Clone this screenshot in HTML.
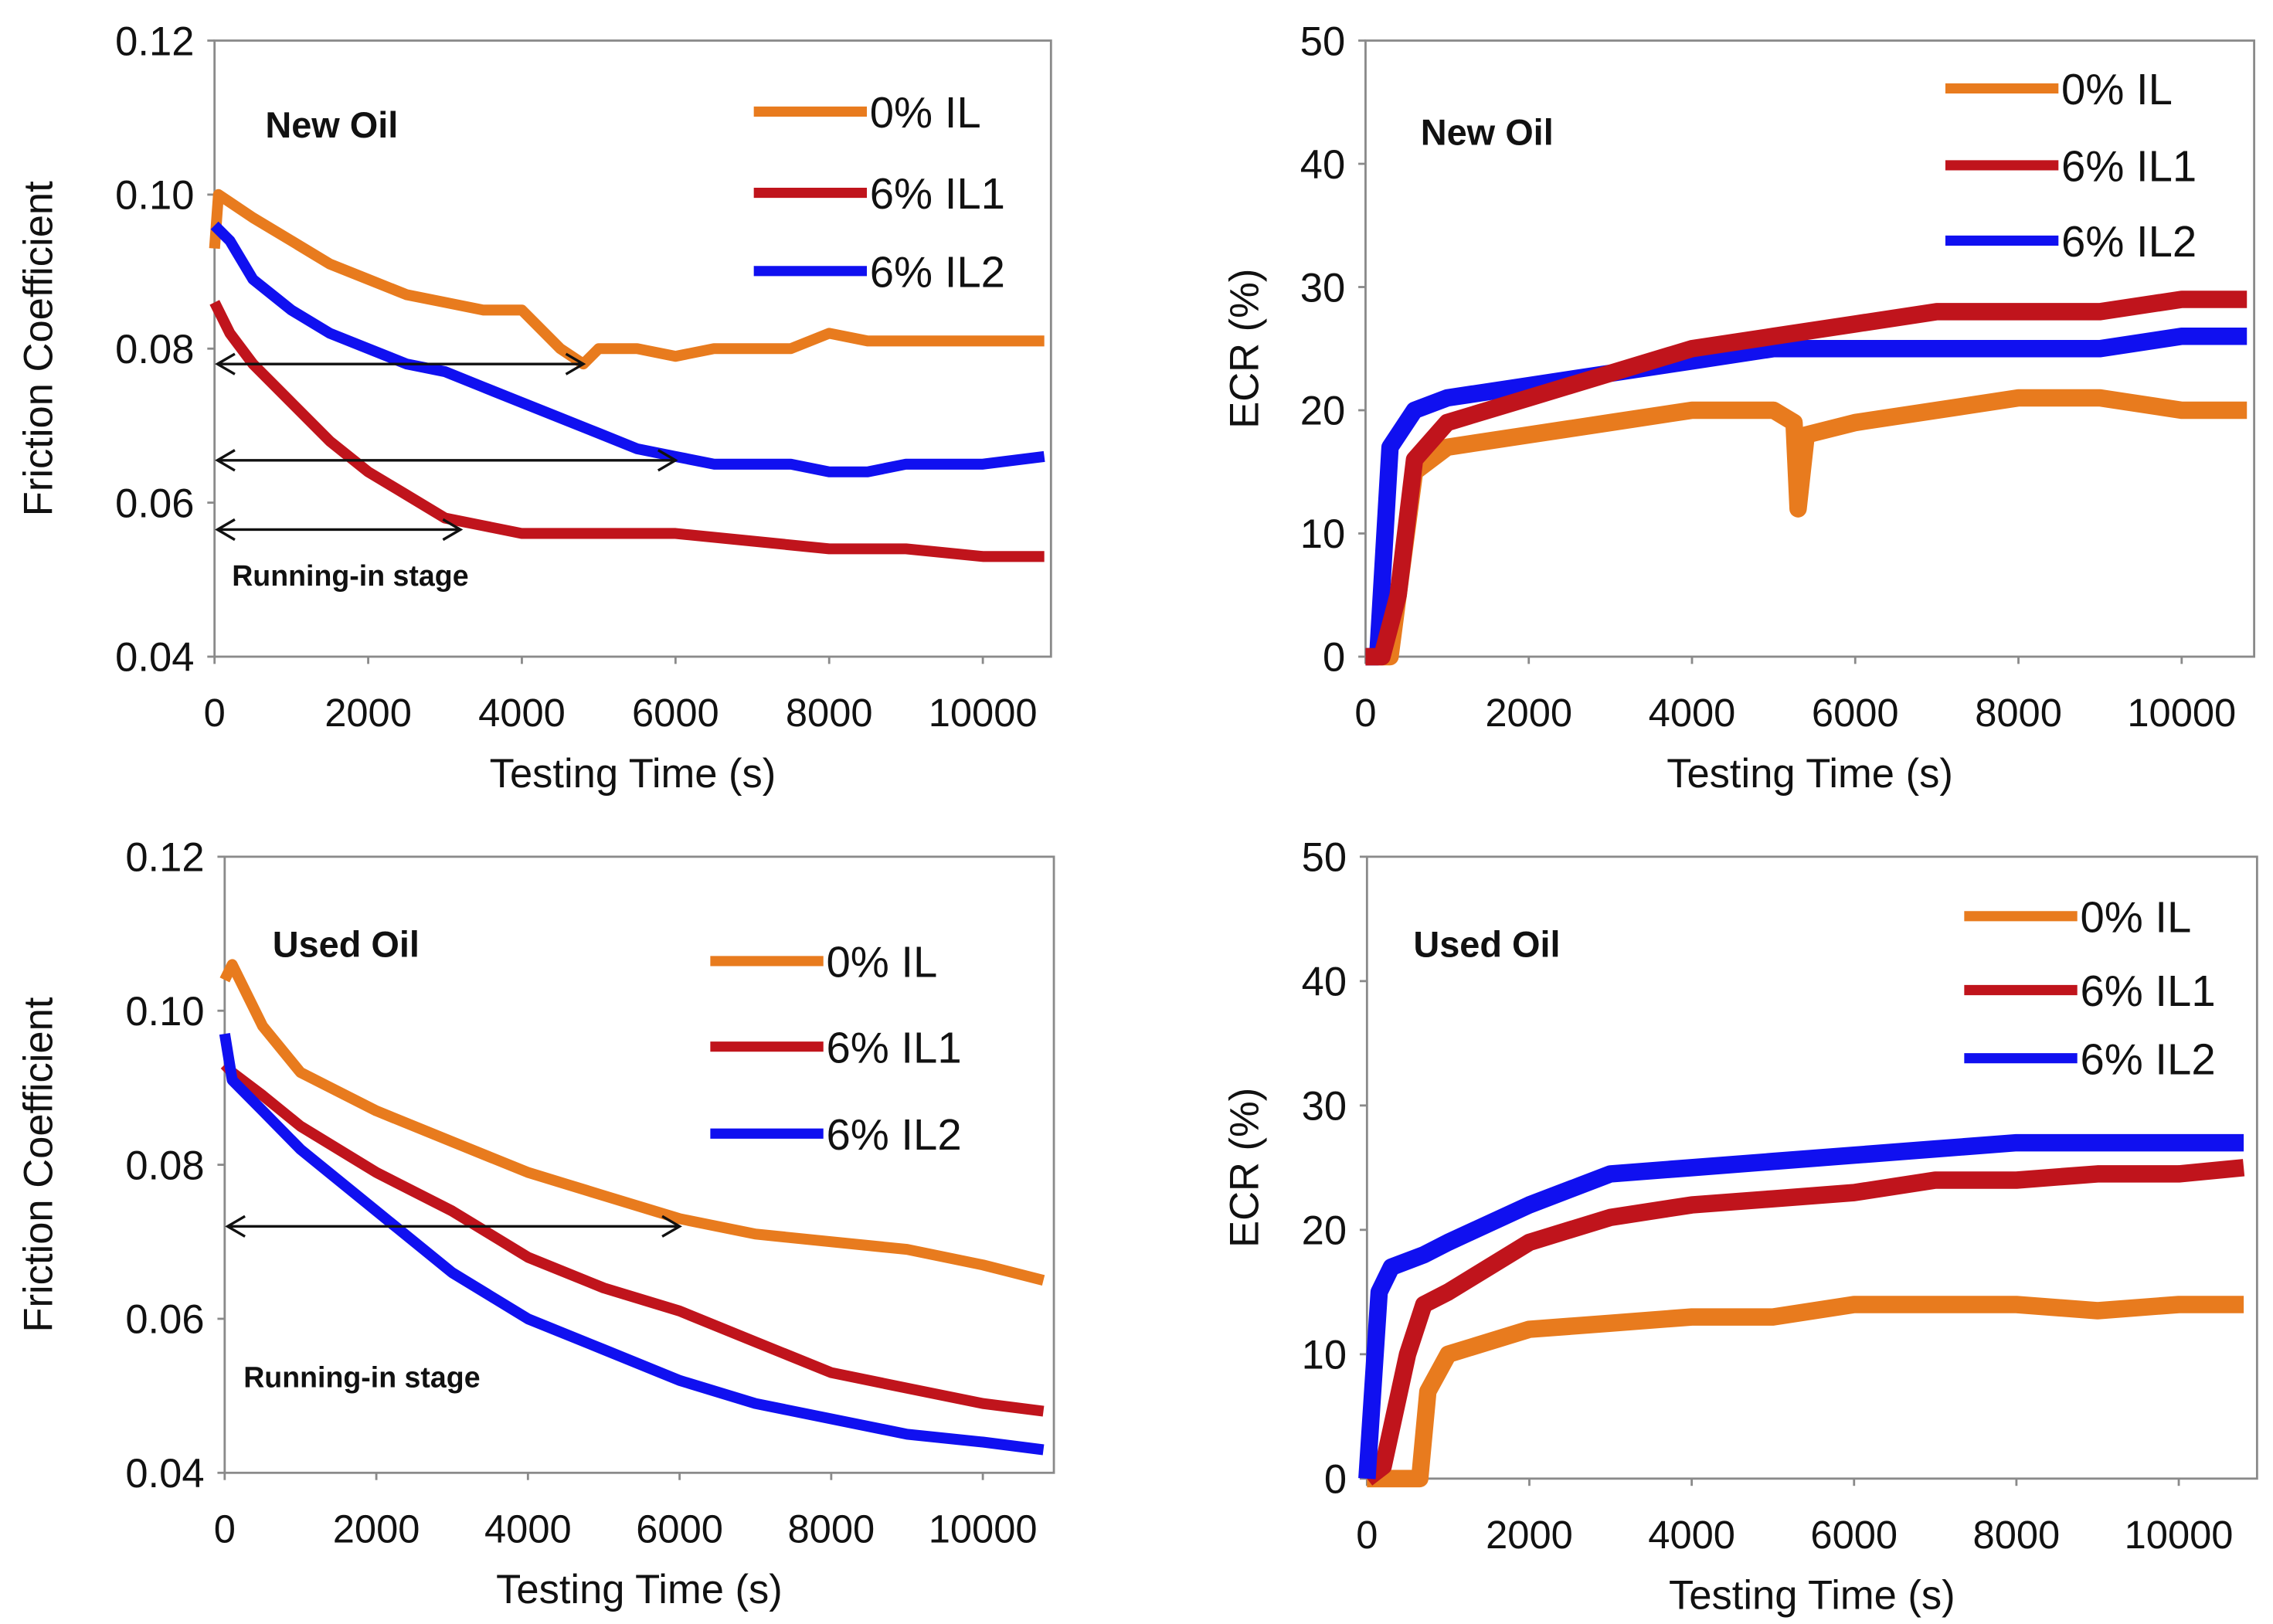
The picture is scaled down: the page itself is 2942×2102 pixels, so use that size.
<!DOCTYPE html>
<html><head><meta charset="utf-8"><style>
html,body{margin:0;padding:0;background:#fff;}
svg{display:block;font-family:"Liberation Sans",Arial,sans-serif;}
</style></head><body>
<svg id="fig" width="2942" height="2102" viewBox="0 0 1568 1120.3" preserveAspectRatio="none" xmlns="http://www.w3.org/2000/svg"></svg>
<script>
// ---- data ----
const tl_t0=[0,50,500,1000,1500,2000,2500,3000,3500,4000,4500,4800,5000,5500,6000,6500,7000,7500,8000,8500,9000,9500,10000,10800];
const tl_v0=[0.093,0.100,0.097,0.094,0.091,0.089,0.087,0.086,0.085,0.085,0.080,0.078,0.080,0.080,0.079,0.080,0.080,0.080,0.082,0.081,0.081,0.081,0.081,0.081];
const tl_t1=[0,200,500,1000,1500,2000,2500,3000,3500,4000,5000,6000,7000,8000,9000,10000,10800];
const tl_v1=[0.086,0.082,0.078,0.073,0.068,0.064,0.061,0.058,0.057,0.056,0.056,0.056,0.055,0.054,0.054,0.053,0.053];
const tl_t2=[0,200,500,1000,1500,2000,2500,3000,3500,4000,4500,5000,5500,6000,6500,7000,7500,8000,8500,9000,9500,10000,10800];
const tl_v2=[0.096,0.094,0.089,0.085,0.082,0.080,0.078,0.077,0.075,0.073,0.071,0.069,0.067,0.066,0.065,0.065,0.065,0.064,0.064,0.065,0.065,0.065,0.066];
const bl_t=[0,100,500,1000,2000,3000,4000,5000,6000,7000,8000,9000,10000,10800];
const bl_v0=[0.104,0.106,0.098,0.092,0.087,0.083,0.079,0.076,0.073,0.071,0.070,0.069,0.067,0.065];
const bl_v1=[0.093,0.092,0.089,0.085,0.079,0.074,0.068,0.064,0.061,0.057,0.053,0.051,0.049,0.048];
const bl_v2=[0.097,0.091,0.087,0.082,0.074,0.066,0.060,0.056,0.052,0.049,0.047,0.045,0.044,0.043];
const tr_t0=[0,300,400,600,1000,2000,3000,4000,5000,5250,5300,5400,6000,7000,8000,9000,10000,10800];
const tr_v0=[0,0,5,15,17,18,19,20,20,19,12,18,19,20,21,21,20,20];
const tr_t1=[0,200,400,600,1000,2000,3000,4000,5000,6000,7000,8000,9000,10000,10800];
const tr_v1=[0,0,5,16,19,21,23,25,26,27,28,28,28,29,29];
const tr_t2=[0,150,300,600,1000,2000,3000,4000,5000,6000,7000,8000,9000,10000,10800];
const tr_v2=[0,0,17,20,21,22,23,24,25,25,25,25,25,26,26];
const br_t0=[0,650,750,1000,2000,3000,4000,5000,6000,7000,8000,9000,10000,10800];
const br_v0=[0,0,7,10,12,12.5,13,13,14,14,14,13.5,14,14];
const br_t1=[0,200,500,700,1000,2000,3000,4000,5000,6000,7000,8000,9000,10000,10800];
const br_v1=[0,1,10,14,15,19,21,22,22.5,23,24,24,24.5,24.5,25];
const br_t2=[0,150,300,700,1000,2000,3000,4000,5000,6000,7000,8000,9000,10000,10800];
const br_v2=[0,15,17,18,19,22,24.5,25,25.5,26,26.5,27,27,27,27];
const xTicks=[0,2000,4000,6000,8000,10000];
const fTicks=[0.04,0.06,0.08,0.10,0.12];
const eTicks=[0,10,20,30,40,50];
const legendLabels=['0% IL','6% IL1','6% IL2'];
const colors=['#E87B1E','#C0141C','#1010F0'];

const svg=document.getElementById('fig');
const NS='http://www.w3.org/2000/svg';
function mk(tag,attrs,parent){const e=document.createElementNS(NS,tag);for(const k in attrs)e.setAttribute(k,attrs[k]);(parent||svg).appendChild(e);return e;}

function panel(p){
  const g=mk('g',{});
  
  
  const sx=v=>p.x0+(v/10000)*(p.x10k-p.x0);
  const sy=v=>p.y1-(v-p.ymin)/(p.ymax-p.ymin)*(p.y1-p.y0);
  const box=mk('rect',{x:p.x0,y:p.y0,width:p.x1-p.x0,height:p.y1-p.y0,fill:'none',stroke:'#8a8a8a','stroke-width':1.5},g);
  
  
  p.yt.forEach(v=>{
    mk('line',{x1:p.x0-5,x2:p.x0,y1:sy(v),y2:sy(v),stroke:'#8a8a8a','stroke-width':1.5},g);
    const t=mk('text',{x:p.x0-14,y:sy(v)+10,'text-anchor':'end','font-size':28,fill:'#111'},g);
    t.textContent=p.fmt(v);
    
    
  });
  xTicks.forEach(v=>{
    mk('line',{x1:sx(v),x2:sx(v),y1:p.y1,y2:p.y1+5,stroke:'#8a8a8a','stroke-width':1.5},g);
    const t=mk('text',{x:sx(v),y:p.y1+48,'text-anchor':'middle','font-size':27,fill:'#111'},g);
    t.textContent=String(v);
    
    
  });
  const xt=mk('text',{x:(p.x0+p.x1)/2,y:p.y1+90,'text-anchor':'middle','font-size':28,fill:'#111'},g);
  xt.textContent='Testing Time (s)';
  
  
  const yt=mk('text',{x:0,y:0,'text-anchor':'middle','font-size':28,fill:'#111',transform:`translate(${p.ytx},${(p.y0+p.y1)/2}) rotate(-90)`},g);
  yt.textContent=p.ytitle;
  
  
  const ti=mk('text',{x:p.titleX,y:p.titleY,'font-size':25,'font-weight':'bold',fill:'#111'},g);
  ti.textContent=p.title;
  
  
  const order=p.order||[0,1,2];
  order.forEach(i=>{
    const s=p.series[i];
    const d=s.t.map((tt,j)=>(j?'L':'M')+sx(tt).toFixed(1)+','+sy(s.v[j]).toFixed(1)).join(' ');
    const pl=mk('path',{d:d,fill:'none',stroke:colors[i],'stroke-width':p.sw,'stroke-linejoin':'round'},g);
    
    
  });
  (p.arrows||[]).forEach(a=>{
    const ag=mk('g',{stroke:'#111','stroke-width':1.8,fill:'none'},g);
    
    
    const y=sy(a.y),xa=sx(0)+2,xb=sx(a.to);
    mk('line',{x1:xa,x2:xb,y1:y,y2:y},ag);
    mk('path',{d:`M${xa+12},${y-7} L${xa},${y} L${xa+12},${y+7}`},ag);
    mk('path',{d:`M${xb-12},${y-7} L${xb},${y} L${xb-12},${y+7}`},ag);
  });
  if(p.runLabel){
    const r=mk('text',{x:p.runLabel[0],y:p.runLabel[1],'font-size':20,'font-weight':'bold',fill:'#111'},g);
    r.textContent='Running-in stage';
    
    
  }
  legendLabels.forEach((lab,i)=>{
    const y=p.leg.ys[i];
    const lg=mk('g',{},g);
    
    
    mk('line',{x1:p.leg.x,x2:p.leg.x+78,y1:y,y2:y,stroke:colors[i],'stroke-width':7},lg);
    const t=mk('text',{x:p.leg.x+80,y:y+11,'font-size':30,fill:'#111'},lg);
    t.textContent=lab;
  });
}
const f2=v=>v.toFixed(2), f0=v=>String(v);
panel({name:'friction-new-oil',x0:148,x1:725,x10k:678,y0:28,y1:453,ymin:0.04,ymax:0.12,yt:fTicks,fmt:f2,ytitle:'Friction Coefficient',ytx:36,title:'New Oil',titleX:183,titleY:95,sw:7.5,
 series:[{t:tl_t0,v:tl_v0},{t:tl_t1,v:tl_v1},{t:tl_t2,v:tl_v2}],
 arrows:[{y:0.078,to:4800},{y:0.0655,to:6000},{y:0.0565,to:3200}],runLabel:[160,404],
 leg:{x:520,ys:[77,133,187]}});
panel({name:'ecr-new-oil',x0:942,x1:1555,x10k:1505,y0:28,y1:453,ymin:0,ymax:50,yt:eTicks,fmt:f0,ytitle:'ECR (%)',ytx:868,title:'New Oil',titleX:980,titleY:100,sw:12,order:[0,2,1],
 series:[{t:tr_t0,v:tr_v0},{t:tr_t1,v:tr_v1},{t:tr_t2,v:tr_v2}],
 leg:{x:1342,ys:[61,114,166]}});
panel({name:'friction-used-oil',x0:155,x1:727,x10k:678,y0:591,y1:1016,ymin:0.04,ymax:0.12,yt:fTicks,fmt:f2,ytitle:'Friction Coefficient',ytx:36,title:'Used Oil',titleX:188,titleY:660,sw:7.5,
 series:[{t:bl_t,v:bl_v0},{t:bl_t,v:bl_v1},{t:bl_t,v:bl_v2}],
 arrows:[{y:0.072,to:6000}],runLabel:[168,957],
 leg:{x:490,ys:[663,722,782]}});
panel({name:'ecr-used-oil',x0:943,x1:1557,x10k:1503,y0:591,y1:1020,ymin:0,ymax:50,yt:eTicks,fmt:f0,ytitle:'ECR (%)',ytx:868,title:'Used Oil',titleX:975,titleY:660,sw:12,
 series:[{t:br_t0,v:br_v0},{t:br_t1,v:br_v1},{t:br_t2,v:br_v2}],
 leg:{x:1355,ys:[632,683,730]}});
</script>
</body></html>
